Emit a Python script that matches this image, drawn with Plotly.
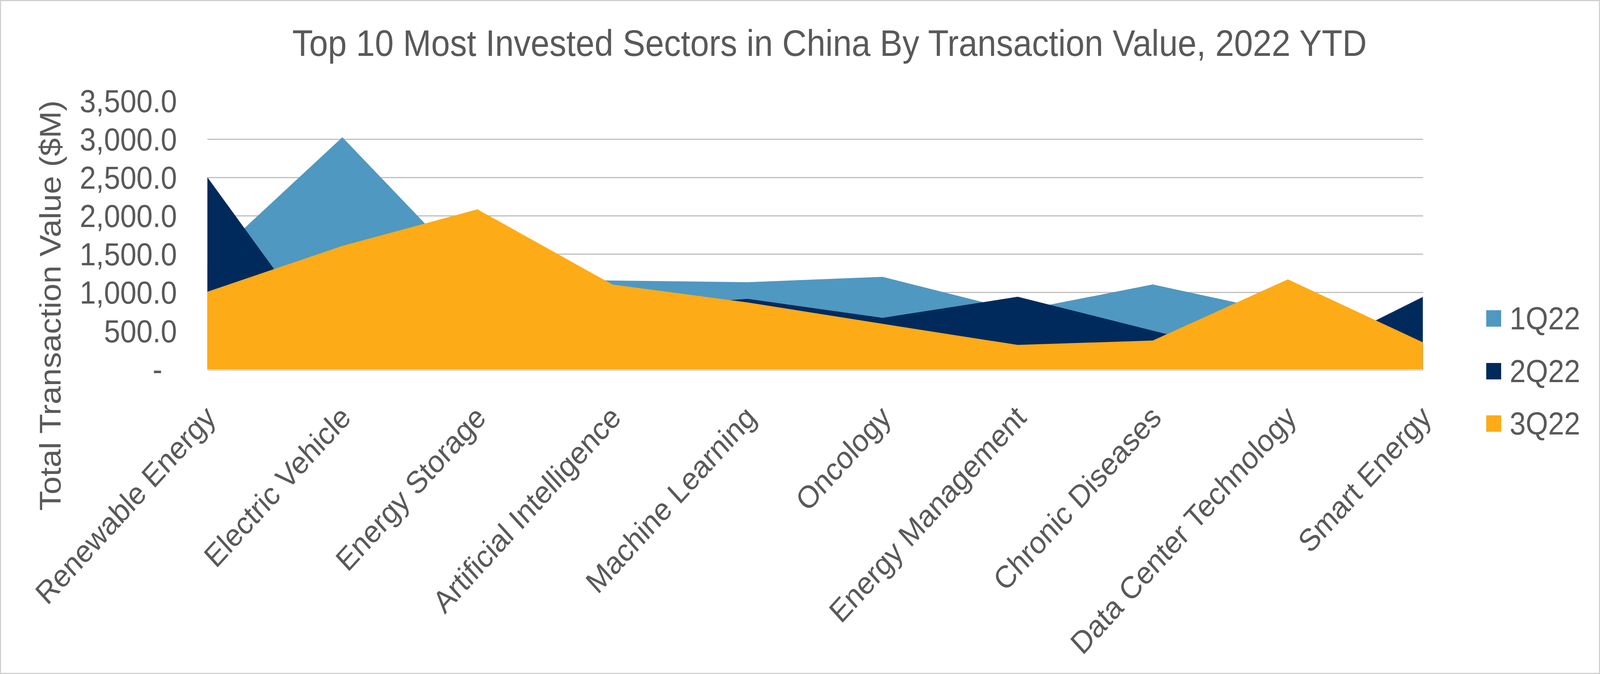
import plotly.graph_objects as go

categories = ["Renewable Energy", "Electric Vehicle", "Energy Storage", "Artificial Intelligence",
              "Machine Learning", "Oncology", "Energy Management", "Chronic Diseases",
              "Data Center Technology", "Smart Energy"]
series_names = ["1Q22", "2Q22", "3Q22"]
q1_values = [1390, 3025, 1185, 1157, 1135, 1205, 760, 1105, 725, 300]
q2_values = [2505, 80, 450, 790, 918, 670, 945, 503, 65, 944]
q3_values = [1010, 1608, 2085, 1104, 871, 592, 317, 374, 1172, 350]
series_colors = ["#4F98C1", "#002A5C", "#FDAB17"]
y_tick_values = [0, 500, 1000, 1500, 2000, 2500, 3000, 3500]
y_tick_labels = ["-\u2002", "500.0", "1,000.0", "1,500.0", "2,000.0", "2,500.0", "3,000.0", "3,500.0"]

W, H = 4500, 1725
L, R, T, B = 583, 498, 258, 780
PW, PH = W - L - R, H - T - B
FONT = "Liberation Sans, Arial, sans-serif"
TXT = "#595959"

def px_x(p):
    return (p - L) / PW

def px_y(p):
    return (H - B - p) / PH

fig = go.Figure()
for name, vals, col in zip(series_names, [q1_values, q2_values, q3_values], series_colors):
    fig.add_trace(go.Scatter(
        x=categories, y=vals, name=name, mode="none", fill="tozeroy",
        fillcolor=col, showlegend=False, hoverinfo="x+y+name"))

shapes = []
annotations = []
# legend (square swatches + labels, right of the plot)
legend_y = [815, 950, 1084]
for name, col, yc in zip(series_names, series_colors, legend_y):
    shapes.append(dict(type="rect", xref="paper", yref="paper",
                       x0=px_x(4180), x1=px_x(4222), y0=px_y(yc + 21), y1=px_y(yc - 21),
                       fillcolor=col, line=dict(width=0)))
    annotations.append(dict(text=name, xref="paper", yref="paper", x=px_x(4244), y=px_y(yc),
                            xanchor="left", yanchor="middle", showarrow=False,
                            font=dict(family=FONT, size=81, color=TXT)))
# y-axis title
annotations.append(dict(text="Total Transaction Value ($M)", xref="paper", yref="paper",
                        x=px_x(141), y=px_y(782), xanchor="center", yanchor="middle",
                        textangle=-90, showarrow=False,
                        font=dict(family=FONT, size=83, color=TXT)))
# chart border
shapes.append(dict(type="rect", xref="paper", yref="paper",
                   x0=px_x(1.5), x1=px_x(W - 1.5), y0=px_y(H - 1.5), y1=px_y(1.5),
                   line=dict(color="#D0D0D0", width=3), fillcolor="rgba(0,0,0,0)", layer="above"))

fig.update_layout(
    width=W, height=H,
    margin=dict(l=L, r=R, t=T, b=B, autoexpand=False),
    paper_bgcolor="white", plot_bgcolor="white",
    title=dict(text="Top 10 Most Invested Sectors in China By Transaction Value, 2022 YTD",
               x=2333 / W, xanchor="center", y=1 - 110 / H, yanchor="middle",
               font=dict(family=FONT, size=95, color=TXT)),
    showlegend=False,
    shapes=shapes,
    annotations=annotations,
)
fig.update_xaxes(type="category", range=[0, 9], showgrid=False,
                 showline=True, linecolor="#D9D9D9", linewidth=4,
                 tickangle=-45, ticks="outside", ticklen=40, tickcolor="rgba(0,0,0,0)",
                 tickfont=dict(family=FONT, size=80, color=TXT))
fig.update_yaxes(range=[0, 3500], tickvals=y_tick_values, ticktext=y_tick_labels,
                 showgrid=True, gridcolor="#C0C0C0", gridwidth=3, zeroline=False,
                 showline=False, ticks="outside", ticklen=68, tickcolor="rgba(0,0,0,0)",
                 tickfont=dict(family=FONT, size=82, color=TXT))

# Fit the 4500x1725 figure into whatever viewport the browser actually offers.
fit_js = """
var gd = document.getElementById('{plot_id}');
document.documentElement.style.margin = '0';
document.documentElement.style.overflow = 'hidden';
document.body.style.margin = '0';
document.body.style.overflow = 'hidden';
var sx = window.innerWidth / %d, sy = window.innerHeight / %d;
gd.style.transformOrigin = '0 0';
gd.style.transform = 'scale(' + sx + ',' + sy + ')';
""" % (W, H)

fig.write_html("out.html", post_script=fit_js, config={"displayModeBar": False})
